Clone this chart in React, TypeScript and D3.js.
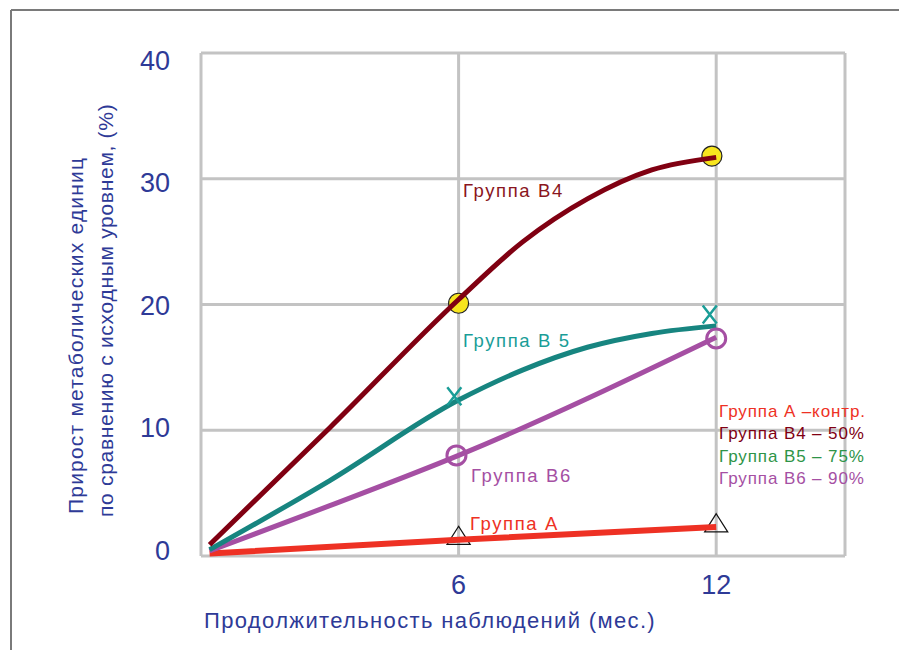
import React from "react";
import * as d3 from "d3";

// ---- data ----
const xTicks = [6, 12];
const yTicks = [0, 10, 20, 30, 40];

const b4Months = [0.2, 3, 6, 7.5, 9, 10.5, 12];
const b4Values = [0.9, 10.2, 20.4, 25.0, 28.4, 30.7, 31.7];

const b5Months = [0.2, 3, 6, 7.5, 9, 10.5, 12];
const b5Values = [0.5, 6.0, 12.4, 14.8, 16.6, 17.7, 18.3];

const b6Months = [0.2, 3, 6, 12];
const b6Values = [0.4, 4.0, 8.0, 17.4];

const aMonths = [0.2, 6, 12];
const aValues = [0.2, 1.3, 2.3];

const b4MarkerMonths = [6, 11.9];
const b4MarkerValues = [20.1, 31.8];
const b5MarkerMonths = [5.9, 11.85];
const b5MarkerValues = [12.7, 19.2];
const b6MarkerMonths = [5.95, 12];
const b6MarkerValues = [8.0, 17.3];
const aMarkerMonths = [6, 12];
const aMarkerValues = [1.4, 2.4];

const legendItems = [
  "Группа А –контр.",
  "Группа В4 – 50%",
  "Группа В5 – 75%",
  "Группа В6 – 90%",
];

const C_B4 = "#800012";
const C_B5 = "#178580";
const C_B5_LABEL = "#1a9d97";
const C_B6 = "#a54fa3";
const C_A = "#ee3124";
const C_B5_LEGEND = "#2e9447";
const C_AXIS = "#2e3a97";
const C_GRID = "#c3c3c3";
const FONT = "'Liberation Sans', Arial, Helvetica, sans-serif";

export default function App() {
  const W = 899;
  const H = 650;
  const x = d3.scaleLinear().domain([0, 15]).range([201, 845]);
  const y = d3.scaleLinear().domain([0, 40]).range([556, 53]);
  // tick labels in the reference sit on a slightly tighter spacing than the grid
  const yLabel = d3.scaleLinear().domain([0, 40]).range([550, 60]);

  const zip = (xs: number[], ys: number[]) => xs.map((v, i) => [v, ys[i]] as [number, number]);
  const smooth = d3
    .line<[number, number]>()
    .x((d) => x(d[0]))
    .y((d) => y(d[1]))
    .curve(d3.curveMonotoneX);
  const straight = d3
    .line<[number, number]>()
    .x((d) => x(d[0]))
    .y((d) => y(d[1]))
    .curve(d3.curveLinear);

  const [x0, x1] = x.range();
  const [yb, yt] = y.range();

  const tri = d3.symbol().type(d3.symbolTriangle).size(210)();

  return (
    <svg
      width={W}
      height={H}
      style={{ position: "absolute", left: 0, top: 0, background: "#fff" }}
      fontFamily={FONT}
    >
      <rect x={0} y={0} width={W} height={H} fill="#fff" />
      {/* outer frame */}
      <line x1={11} y1={10} x2={W} y2={10} stroke="#7a7a7a" strokeWidth={2} />
      <line x1={11} y1={10} x2={11} y2={H} stroke="#7a7a7a" strokeWidth={2} />

      {/* grid */}
      {yTicks.map((t) => (
        <line key={"gy" + t} x1={x0} x2={x1} y1={y(t)} y2={y(t)} stroke={C_GRID} strokeWidth={3} />
      ))}
      {[0, ...xTicks, 15].map((t) => (
        <line key={"gx" + t} x1={x(t)} x2={x(t)} y1={yb} y2={yt} stroke={C_GRID} strokeWidth={3} />
      ))}

      {/* y tick labels */}
      {yTicks.map((t) => (
        <text key={"ty" + t} x={170} y={yLabel(t)} dy="0.36em" textAnchor="end" fontSize={27} fill={C_AXIS}>
          {t}
        </text>
      ))}
      {/* x tick labels */}
      {xTicks.map((t) => (
        <text key={"tx" + t} x={x(t)} y={594} textAnchor="middle" fontSize={27} fill={C_AXIS}>
          {t}
        </text>
      ))}

      {/* axis titles */}
      <text x={204} y={628} fontSize={22} fill={C_AXIS} letterSpacing={1.35}>
        Продолжительность наблюдений (мес.)
      </text>
      <g transform="translate(83,514) rotate(-90)">
        <text x={0} y={0} fontSize={21} fill={C_AXIS} letterSpacing={1.2}>
          Прирост метаболических единиц
        </text>
      </g>
      <g transform="translate(113,517) rotate(-90)">
        <text x={0} y={0} fontSize={21} fill={C_AXIS} letterSpacing={0.7}>
          по сравнению с исходным уровнем, (%)
        </text>
      </g>

      {/* markers (under lines) */}
      {b4MarkerMonths.map((m, i) => (
        <circle key={"m4" + i} cx={x(m)} cy={y(b4MarkerValues[i])} r={10} fill="#f7e51e" stroke="#222" strokeWidth={1.2} />
      ))}
      {aMarkerMonths.map((m, i) => (
        <path
          key={"ma" + i}
          d={tri as string}
          transform={`translate(${x(m)},${y(aMarkerValues[i])}) scale(1.05,0.95)`}
          fill="none"
          stroke="#111"
          strokeWidth={1.2}
        />
      ))}

      {/* lines */}
      <path d={straight(zip(aMonths, aValues)) as string} fill="none" stroke={C_A} strokeWidth={6} />
      <path d={smooth(zip(b6Months, b6Values)) as string} fill="none" stroke={C_B6} strokeWidth={5} />
      <path d={smooth(zip(b5Months, b5Values)) as string} fill="none" stroke={C_B5} strokeWidth={5} />
      <path d={smooth(zip(b4Months, b4Values)) as string} fill="none" stroke={C_B4} strokeWidth={5} />

      {/* markers over lines */}
      {b6MarkerMonths.map((m, i) => (
        <circle key={"m6" + i} cx={x(m)} cy={y(b6MarkerValues[i])} r={9.5} fill="none" stroke={C_B6} strokeWidth={3} />
      ))}
      {b5MarkerMonths.map((m, i) => {
        const cx = x(m);
        const cy = y(b5MarkerValues[i]);
        return (
          <path
            key={"m5" + i}
            d={`M${cx - 7},${cy - 9}L${cx + 7},${cy + 9}M${cx + 7},${cy - 9}L${cx - 7},${cy + 9}`}
            stroke={C_B5_LABEL}
            strokeWidth={2.5}
            fill="none"
          />
        );
      })}

      {/* series labels */}
      <text x={463} y={197} fontSize={18.5} fill="#8a1520" letterSpacing={1.6}>Группа В4</text>
      <text x={463} y={347} fontSize={18.5} fill={C_B5_LABEL} letterSpacing={1.6}>Группа В 5</text>
      <text x={471} y={482} fontSize={18.5} fill={C_B6} letterSpacing={1.6}>Группа В6</text>
      <text x={470} y={530} fontSize={18.5} fill={C_A} letterSpacing={1.6}>Группа А</text>

      {/* legend */}
      {legendItems.map((t, i) => (
        <text
          key={"lg" + i}
          x={719}
          y={417 + i * 22.4}
          fontSize={17}
          fill={[C_A, C_B4, C_B5_LEGEND, C_B6][i]}
          letterSpacing={0.9}
        >
          {t}
        </text>
      ))}
    </svg>
  );
}
